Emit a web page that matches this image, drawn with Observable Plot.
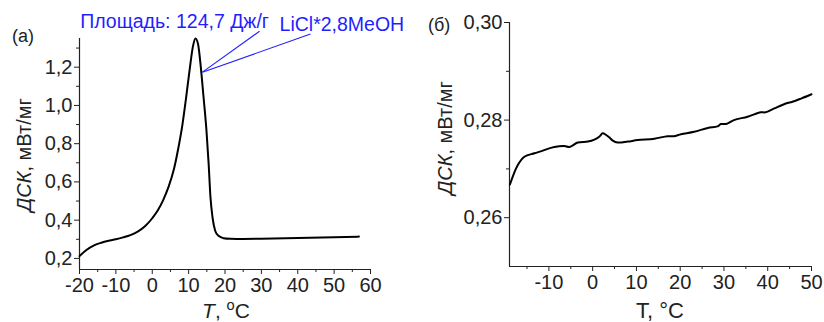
<!DOCTYPE html>
<html><head><meta charset="utf-8">
<script src="https://cdn.jsdelivr.net/npm/d3@7"></script>
<script src="https://cdn.jsdelivr.net/npm/@observablehq/plot@0.6"></script>
<style>
body{margin:0;background:#fff;}
#wrap{display:flex;width:824px;height:322px;font-family:"Liberation Sans",Arial,sans-serif;}
</style></head>
<body><div id="wrap"></div>
<script>
// Panel (a): DSC curve
const aT   = [-20,-18,-16,-14,-12,-10,-8,-6,-4,-2,0,1.5,3,4.5,6,7.2,8.3,9.3,10.3,11.2,11.9,12.6,13.3,14.1,14.9,15.5,16.0,16.6,17.3,18.2,19.6,21.5,25,30,40,50,56.8];
const aDSC = [0.212,0.245,0.268,0.282,0.292,0.300,0.310,0.322,0.340,0.368,0.410,0.450,0.505,0.575,0.670,0.780,0.900,1.040,1.190,1.310,1.350,1.320,1.210,1.044,0.870,0.696,0.521,0.410,0.345,0.318,0.306,0.303,0.302,0.303,0.307,0.311,0.314];
const aXTicks = [-20,-10,0,10,20,30,40,50,60];
const aXMinor = [-15,-5,5,15,25,35,45,55];
const aYTicks = [0.2,0.4,0.6,0.8,1.0,1.2];
const aYMinor = [0.3,0.5,0.7,0.9,1.1,1.3];
const aNote1 = "Площадь: 124,7 Дж/г";
const aNote2 = "LiCl*2,8MeOH";
// Panel (б): DSC curve
const bT   = [-18.9,-17.1,-15.6,-13.3,-11.5,-10.3,-8.75,-6.5,-5.3,-3.4,-1.1,0.4,1.5,2.3,3.0,4.0,4.6,5.7,8.0,10.3,14.1,17.1,18.5,20.2,23.2,26.3,28.5,29.3,30.5,32.3,35.4,38.4,39.5,41.5,44.5,45.5,47.6,50];
const bDSC = [0.2668,0.2708,0.2725,0.2732,0.2737,0.2741,0.2745,0.2747,0.2745,0.2754,0.2756,0.2760,0.2766,0.2773,0.2770,0.2763,0.2758,0.2754,0.2756,0.2759,0.2762,0.2767,0.2767,0.2771,0.2776,0.2784,0.2787,0.2792,0.2792,0.2800,0.2807,0.2816,0.2816,0.2824,0.2835,0.2837,0.2844,0.2853];
const bXTicks = [-10,0,10,20,30,40,50];
const bXMinor = [-15,-5,5,15,25,35,45];
const bYTicks = [0.26,0.28,0.30];
const bYMinor = [0.27,0.29];

const fmt1 = d => d.toFixed(1).replace(".", ",");
const fmt2 = d => d.toFixed(2).replace(".", ",");
const FS = 20;

function axes(xT, xM, yT, yM, yf, xDom, yDom){
  return [
    Plot.ruleX([xDom[0]], {stroke:"#222", strokeWidth:1.2}),
    Plot.ruleY([yDom[0]], {stroke:"#222", strokeWidth:1.2}),
    Plot.axisX({ticks:xT, tickSize:5, tickPadding:3, tickFormat:d=>String(d), label:null, fontSize:FS, fill:"#222", stroke:"#222"}),
    Plot.axisX({ticks:xM, tickSize:3, tickFormat:()=>"", label:null, stroke:"#222"}),
    Plot.axisY({ticks:yT, tickSize:5, tickPadding:2, tickFormat:yf, label:null, fontSize:FS, fill:"#222", stroke:"#222"}),
    Plot.axisY({ticks:yM, tickSize:3, tickFormat:()=>"", label:null, stroke:"#222"})
  ];
}

const aData = aT.map((t,i)=>({t, v:aDSC[i]}));
const aX = [-20,60], aY = [0.142,1.35];
const plotA = Plot.plot({
  width:420, height:322, marginLeft:79, marginRight:50, marginTop:38, marginBottom:53,
  x:{domain:aX}, y:{domain:aY},
  style:{fontFamily:"Liberation Sans, Arial, sans-serif", background:"white", overflow:"visible"},
  marks:[
    ...axes(aXTicks, aXMinor, aYTicks, aYMinor, fmt1, aX, aY),
    Plot.line(aData, {x:"t", y:"v", stroke:"#000", strokeWidth:2, curve:"monotone-x"}),
    Plot.link([{x1:13.8,y1:1.174,x2:29.5,y2:1.388},{x1:13.8,y1:1.174,x2:43.5,y2:1.373}],
      {x1:"x1",y1:"y1",x2:"x2",y2:"y2", stroke:"#1f1fff", strokeWidth:1.1}),
    Plot.text([aNote1], {x:-19.8, y:1.404, text:d=>d, textAnchor:"start", lineAnchor:"bottom", fontSize:19.5, fill:"#1f1fff"}),
    Plot.text([aNote2], {x:35.0, y:1.390, text:d=>d, textAnchor:"start", lineAnchor:"bottom", fontSize:19.5, fill:"#1f1fff"})
  ]
});

const bData = bT.map((t,i)=>({t, v:bDSC[i]}));
const bX = [-19,50], bY = [0.25,0.30];
const plotB = Plot.plot({
  width:404, height:322, marginLeft:89, marginRight:13, marginTop:22, marginBottom:56,
  x:{domain:bX}, y:{domain:bY},
  style:{fontFamily:"Liberation Sans, Arial, sans-serif", background:"white", overflow:"visible"},
  marks:[
    ...axes(bXTicks, bXMinor, bYTicks, bYMinor, fmt2, bX, bY),
    Plot.line(bData, {x:"t", y:"v", stroke:"#000", strokeWidth:2, curve:"catmull-rom"})
  ]
});

const wrap = document.getElementById("wrap");
wrap.appendChild(plotA);
wrap.appendChild(plotB);

function addText(svg, x, y, parts, opts={}){
  const t = d3.select(svg).append("text").attr("x",x).attr("y",y)
    .attr("font-family","Liberation Sans, Arial, sans-serif").attr("font-size",opts.size||20)
    .attr("fill","#222").attr("text-anchor",opts.anchor||"middle");
  if (opts.rotate) t.attr("transform",`rotate(-90 ${x} ${y})`);
  parts.forEach(p=>{
    const s = t.append("tspan").text(p.t);
    if (p.italic) s.attr("font-style","italic");
    if (p.sup) s.attr("baseline-shift","super").attr("font-size",(opts.size||20)*0.7);
  });
  return t;
}
// Panel (a) texts
addText(plotA, 12, 42, [{t:"(a)"}], {size:18, anchor:"start"});
addText(plotA, 226, 318, [{t:"T",italic:true},{t:", "},{t:"o",sup:true},{t:"C"}], {size:21});
addText(plotA, 31, 155, [{t:"ДСК",italic:true},{t:", мВт/мг"}], {size:20, rotate:true});
// Panel (б) texts
addText(plotB, 8, 31, [{t:"(б)"}], {size:18, anchor:"start"});
addText(plotB, 240, 318, [{t:"T, °C"}], {size:22});
addText(plotB, 32, 138, [{t:"ДСК",italic:true},{t:", мВт/мг"}], {size:20, rotate:true});
</script>
</body></html>
